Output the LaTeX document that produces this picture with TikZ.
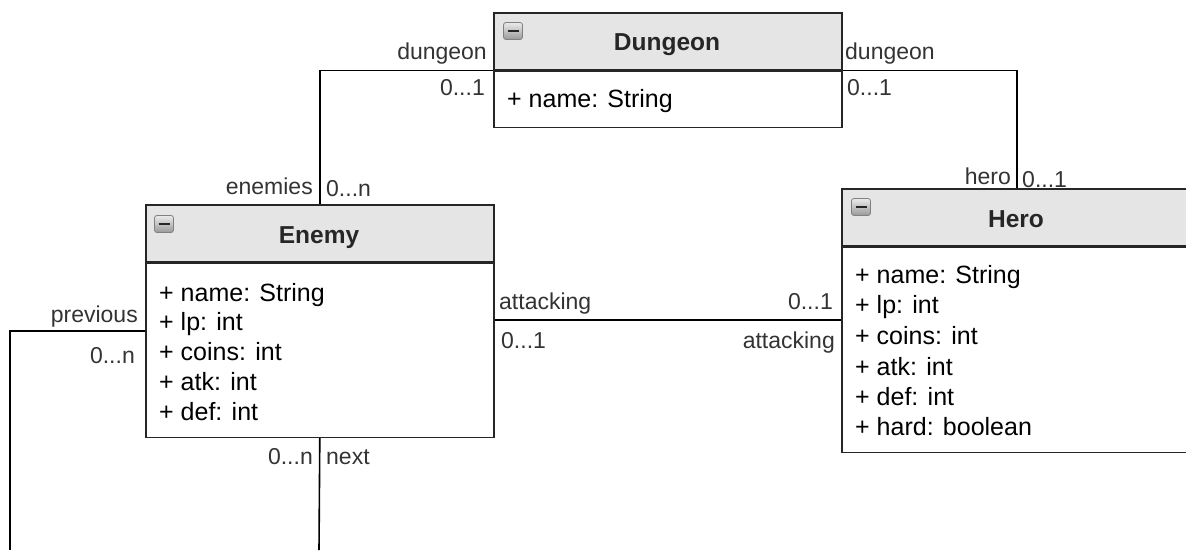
\documentclass[tikz,border=0pt]{standalone}
\usepackage{fontspec}
\setmainfont{Liberation Sans}
\begin{document}
\begin{tikzpicture}[x=1pt,y=-1pt,
  box/.style={draw=black!85,line width=1.6pt,inner sep=0pt,anchor=north west},
  head/.style={box,fill=black!10},
  body/.style={box,fill=white},
  title/.style={font=\fontsize{24.5}{29}\selectfont\bfseries,text=black!85,anchor=base,inner sep=0pt},
  attr/.style={font=\fontsize{25}{30}\selectfont,text=black,anchor=base west,inner sep=0pt},
  lbl/.style={font=\fontsize{23}{28}\selectfont,text=black!80,inner sep=0pt},
  lw/.style={lbl,anchor=base west},
  le/.style={lbl,anchor=base east},
  link/.style={draw=black,line width=1.6pt},
  iconbox/.style={draw=black!50,line width=0.8pt,rounded corners=2.5pt,top color=black!8,bottom color=black!40,
    minimum width=19pt,minimum height=17pt,inner sep=0pt},
  minusbar/.style={draw=black!85,line width=2.2pt}]
\useasboundingbox (0,0) rectangle (1186,550);

% ---------- Dungeon ----------
\node[head,minimum width=348pt,minimum height=57pt] (dungeonHead) at (493,12) {};
\node[body,minimum width=348pt,minimum height=56pt] (dungeonBody) at (dungeonHead.south west) {};
\node[title] (dungeonTitle) at (667,50) {Dungeon};
\node[attr] (dungeonA1) at (507,107) {+ name: String};
\node[iconbox] (dungeonIcon) at (513,31) {};
\draw[minusbar] ([xshift=-5.5pt]dungeonIcon.center) -- ([xshift=5.5pt]dungeonIcon.center);

% ---------- Enemy ----------
\node[head,minimum width=348pt,minimum height=57pt] (enemyHead) at (145,204) {};
\node[body,minimum width=348pt,minimum height=174pt] (enemyBody) at (enemyHead.south west) {};
\node[title] (enemyTitle) at (319,243) {Enemy};
\node[iconbox] (enemyIcon) at (164,224) {};
\draw[minusbar] ([xshift=-5.5pt]enemyIcon.center) -- ([xshift=5.5pt]enemyIcon.center);
\node[attr] (enemyA1) at (159,301) {+ name: String};
\node[attr] (enemyA2) at (159,330) {+ lp: int};
\node[attr] (enemyA3) at (159,360) {+ coins: int};
\node[attr] (enemyA4) at (159,390) {+ atk: int};
\node[attr] (enemyA5) at (159,420) {+ def: int};

% ---------- Hero ----------
\node[head,minimum width=350pt,minimum height=57pt] (heroHead) at (841,188) {};
\node[body,minimum width=350pt,minimum height=205pt] (heroBody) at (heroHead.south west) {};
\node[title] (heroTitle) at (1016,227) {Hero};
\node[iconbox] (heroIcon) at (861,207) {};
\draw[minusbar] ([xshift=-5.5pt]heroIcon.center) -- ([xshift=5.5pt]heroIcon.center);
\node[attr] (heroA1) at (855,283) {+ name: String};
\node[attr] (heroA2) at (855,313) {+ lp: int};
\node[attr] (heroA3) at (855,344) {+ coins: int};
\node[attr] (heroA4) at (855,375) {+ atk: int};
\node[attr] (heroA5) at (855,405) {+ def: int};
\node[attr] (heroA6) at (855,435) {+ hard: boolean};

% ---------- associations ----------
\draw[link] (dungeonHead.south west) -| (enemyHead.north);
\draw[link] (dungeonHead.south east) -| (heroHead.north);
\draw[link] (enemyBody.east |- 0,320) -- (heroBody.west |- 0,320);
\coordinate (loopLeft) at (10,550);
\coordinate (loopBottom) at (319,550);
\draw[link] (enemyBody.west |- 0,331) -| (loopLeft);
\draw[link] (enemyBody.south) -- (loopBottom);

% ---------- role names and multiplicities ----------
\node[le] (lDungeonE) at (487,59) {dungeon};
\node[le] (mDungeonE) at (485,95) {0...1};
\node[le] (lEnemies) at (313,194) {enemies};
\node[lw] (mEnemies) at (326,196) {0...n};

\node[lw] (lDungeonH) at (845,59) {dungeon};
\node[lw] (mDungeonH) at (847,95) {0...1};
\node[le] (lHero) at (1011,184) {hero};
\node[lw] (mHero) at (1022,187) {0...1};

\node[lw] (lAttackE) at (499,309) {attacking};
\node[le] (mAttackE) at (833,309) {0...1};
\node[lw] (mAttackH) at (501,348) {0...1};
\node[le] (lAttackH) at (835,348) {attacking};

\node[le] (lPrevious) at (138,322) {previous};
\node[le] (mPrevious) at (135,363) {0...n};
\node[le] (mNext) at (313,464) {0...n};
\node[lw] (lNext) at (326,464) {next};
\end{tikzpicture}
\end{document}
